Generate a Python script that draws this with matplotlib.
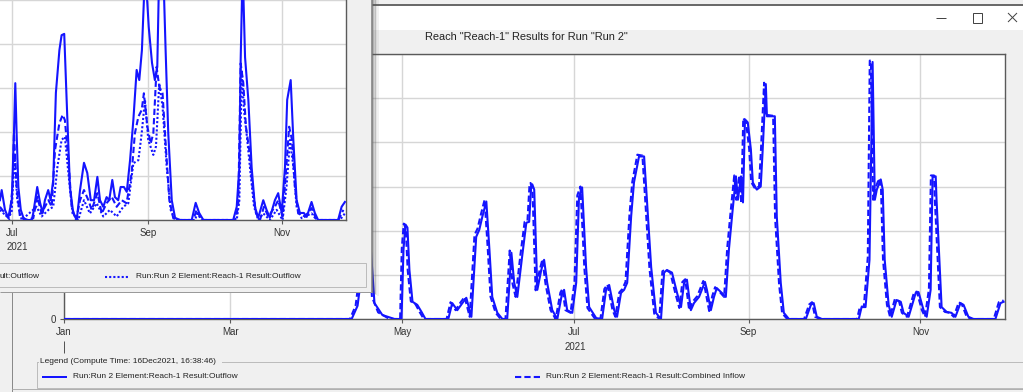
import matplotlib
matplotlib.use('Agg')
import matplotlib.pyplot as plt
from matplotlib.patches import Rectangle
from matplotlib.lines import Line2D
import matplotlib.transforms as mtransforms
import matplotlib.dates as mdates
import numpy as np
from datetime import datetime

# ---------------- data (day of year 2021, flow in grid units) ----------------
month_days = [0, 59, 120, 181, 243, 304]
month_labels = ["Jan", "Mar", "May", "Jul", "Sep", "Nov"]
front_month_days = [181, 243, 304]
front_month_labels = ["Jul", "Sep", "Nov"]
year_label = "2021"

out_days = [0, 102.1, 104.2, 106.2, 107.4, 108.6, 110.2, 113.0, 117.3,
            119.8, 120.5, 121.2, 121.9, 122.6, 123.7, 125.4, 126.9, 128.3, 136.4,
            137.8, 139.6, 141.4, 142.8, 144.6, 146.3, 147.4, 148.5, 149.9, 151.0, 152.0, 153.8, 155.6,
            157.3, 158.8, 159.8, 160.9, 162.6, 164.1, 165.1, 165.8, 166.2, 166.9, 168.0, 169.4, 170.4,
            171.5, 173.3, 175.1, 176.8, 177.5, 178.6, 180.4, 181.8, 182.8, 183.9, 185.3, 186.4, 188.9, 191.0,
            192.4, 193.5, 195.3, 196.3, 197.7, 198.8, 199.9, 201.3, 202.3, 204.1, 205.9, 206.9, 208.4,
            210.1, 211.9, 213.0, 214.0, 215.8, 217.6, 219.0, 220.1, 221.1, 222.5, 223.6, 225.4, 226.4,
            227.5, 228.2, 229.6, 230.7, 231.7, 233.5, 234.9, 236.0, 237.1, 238.5, 239.2, 240.3, 241.0,
            241.7, 242.7, 243.8, 244.5, 245.9, 247.3, 248.0, 249.1, 249.5, 250.2, 252.3, 253.0, 254.4,
            255.5, 257.3, 263.3, 265.1, 266.1, 267.2, 269.0, 282.1, 283.1, 284.5, 285.9, 287.0, 287.8,
            288.5, 289.9, 290.6, 291.3, 292.7, 293.8, 295.5, 297.0, 298.0, 299.8, 302.3, 303.3, 305.1,
            306.2, 307.6, 308.3, 309.4, 309.7, 311.5, 313.3, 315.0, 316.4, 318.2, 319.3, 321.0, 322.8,
            330.6, 332.4, 333.5]
out_vals = [0, 0, 0.3, 1.3, 2.9, 1.86, 0.36, 0.09, 0,
            0, 1.57, 2.14, 2.07, 1.11, 0.39, 0.32, 0.16, 0, 0,
            0.36, 0.2, 0.36, 0.48, 0.05, 1.86, 2.02, 2.32, 2.66, 1.57, 0.5, 0.14, 0,
            0, 1.5, 0.82, 0.5, 1.41, 2.18, 2.2, 2.98, 3.05, 2.93, 0.66, 1.11, 1.34,
            0.82, 0.2, 0, 0.59, 0.66, 0.2, 0.14, 0.82, 2.77, 2.98, 1.18, 0.27, 0.02, 0,
            0.66, 0.77, 0.2, 0.05, 0.59, 0.66, 0.82, 2.32, 3.09, 3.68, 3.68, 2.7, 1.18,
            0.14, 0, 1.05, 1.11, 1.05, 0.59, 0.27, 0.82, 0.89, 0.2, 0.36, 0.5, 0.66,
            0.84, 0.66, 0.2, 0.5, 0.7, 0.59, 0.5, 1.57, 2.32, 3.23, 2.7, 3.23, 2.64,
            4.52, 4.45, 3.84, 3.09, 2.93, 3.0, 3.84, 5.32, 4.59, 4.59, 4.59, 2.32, 0.82,
            0.14, 0, 0, 0.32, 0.36, 0.05, 0, 0, 0.27, 0.27, 1.34, 5.82, 2.7,
            2.93, 3.16, 2.93, 1.34, 0.32, 0.05, 0.43, 0.39, 0.14, 0.05, 0.59, 0.61, 0.2,
            0.05, 0.66, 3.23, 3.23, 2.7, 0.27, 0.16, 0.14, 0.05, 0.36, 0.32, 0.05, 0,
            0, 0.36, 0.39]

inflow_days = [0, 101.5, 103.5, 105.5, 106.8, 108.0, 109.3, 111.5, 115.0, 117.0,
               119.3, 119.9, 120.6, 121.3, 122.0, 123.1, 124.8, 126.3, 127.7, 135.8,
               137.2, 139.0, 140.8, 142.2, 144.0, 145.7, 146.8, 147.9, 149.3, 150.4, 151.4, 153.2, 155.0,
               156.7, 158.2, 159.2, 160.3, 162.0, 163.5, 164.5, 165.2, 165.6, 166.3, 167.4, 168.8, 169.8,
               170.9, 172.7, 174.5, 176.2, 176.9, 178.0, 179.8, 181.2, 182.2, 183.3, 184.7, 185.8, 188.3, 190.4,
               191.8, 192.9, 194.7, 195.7, 197.1, 198.2, 199.3, 200.7, 201.7, 203.5, 205.3, 206.3, 207.8,
               209.5, 211.3, 212.4, 213.4, 215.2, 217.0, 218.4, 219.5, 220.5, 221.9, 223.0, 224.8, 225.8,
               226.9, 227.6, 229.0, 230.1, 231.1, 232.9, 234.3, 235.4, 236.5, 237.9, 238.6, 239.7, 240.4,
               241.1, 242.1, 243.2, 243.9, 245.3, 246.7, 247.4, 248.5, 248.9, 249.6, 251.7, 252.4, 253.8,
               254.9, 256.7, 262.7, 264.5, 265.5, 266.6, 268.4, 281.5, 282.5, 283.9, 285.3, 286.0, 286.4,
               287.2, 287.9, 289.3, 290.0, 290.7, 292.1, 293.2, 294.9, 296.4, 297.4, 299.2, 301.7, 302.7,
               304.5, 305.6, 307.0, 307.7, 308.8, 309.1, 310.9, 312.7, 314.4, 315.8, 317.6, 318.7, 320.4,
               322.2, 330.0, 331.8, 333.5]
inflow_vals = [0, 0, 0.3, 1.3, 2.9, 1.9, 0.5, 0.15, 0.02, 0,
               0, 1.6, 2.16, 2.05, 1.1, 0.4, 0.33, 0.15, 0, 0,
               0.38, 0.2, 0.38, 0.5, 0.05, 1.9, 2.05, 2.35, 2.7, 1.6, 0.5, 0.14, 0,
               0, 1.55, 0.8, 0.5, 1.45, 2.2, 2.22, 3.0, 3.08, 2.9, 0.65, 1.1, 1.35,
               0.8, 0.2, 0, 0.6, 0.68, 0.2, 0.14, 0.85, 2.8, 3.0, 1.15, 0.25, 0.02, 0,
               0.68, 0.78, 0.2, 0.05, 0.6, 0.68, 0.84, 2.35, 3.1, 3.72, 3.7, 2.7, 1.15,
               0.12, 0, 1.08, 1.12, 1.05, 0.58, 0.25, 0.84, 0.9, 0.2, 0.38, 0.52, 0.68,
               0.86, 0.66, 0.18, 0.52, 0.72, 0.6, 0.5, 1.6, 2.35, 3.25, 2.7, 3.25, 2.62,
               4.55, 4.45, 3.85, 3.1, 2.95, 3.0, 3.85, 5.35, 4.6, 4.62, 4.6, 2.3, 0.8,
               0.13, 0, 0, 0.33, 0.38, 0.05, 0, 0, 0.28, 0.28, 1.4, 5.85, 5.85,
               2.7, 2.95, 3.18, 2.95, 1.35, 0.32, 0.05, 0.45, 0.4, 0.14, 0.05, 0.6, 0.62,
               0.2, 0.05, 0.68, 3.25, 3.25, 2.7, 0.27, 0.16, 0.14, 0.05, 0.38, 0.33, 0.05,
               0, 0, 0.38, 0.42]

# front (partly hidden) window: three series
front_solid_days = [175.5, 176.3, 177.8, 179.3, 180.9, 181.9, 182.5, 183.1, 183.9, 185.0, 186.2, 187.7,
                    190.0, 190.7, 192.5, 193.8, 195.0, 196.0, 197.5, 198.6, 199.8, 201.0, 202.6, 203.6,
                    204.8, 205.9, 207.4, 208.9, 210.5, 212.0, 213.8, 215.3, 216.9, 218.4, 219.9, 221.1,
                    222.6, 224.1, 225.3, 226.7, 227.9, 229.4, 230.5, 232.0, 233.3, 234.8, 236.3, 237.8,
                    239.0, 240.2, 241.7, 243.3, 244.8, 246.1, 247.2, 248.1, 249.9, 251.0, 252.2, 253.8,
                    255.3, 257.5, 262.9, 264.7, 266.3, 268.2, 281.8, 283.4, 284.6, 285.2, 286.1, 287.2,
                    288.7, 290.2, 291.7, 293.2, 295.5, 297.0, 298.5, 300.8, 302.3, 303.9, 305.4, 306.4,
                    308.0, 309.2, 310.7, 312.2, 314.0, 315.3, 317.5, 319.0, 320.5, 329.6, 331.2, 332.7]
front_solid_vals = [0.45, 0.68, 0.23, 0.05, 0.45, 1.98, 3.11, 1.98, 0.75, 0.23, 0.05, 0,
                    0, 0.16, 0.75, 0.39, 0.16, 0.45, 0.68, 0.45, 0.91, 2.89, 3.86, 4.2,
                    4.23, 2.73, 0.75, 0.16, 0, 0.68, 1.3, 1.07, 0.45, 0.45, 0.98, 0.45,
                    0.3, 0.52, 0.45, 0.91, 0.52, 0.45, 0.75, 0.75, 0.64, 1.36, 2.27, 3.41,
                    3.18, 3.86, 5.75, 4.39, 3.57, 3.18, 3.48, 5.75, 5.75, 3.86, 1.98, 0.45,
                    0.05, 0, 0, 0.39, 0.16, 0, 0, 0.3, 1.2, 3.64, 5.75, 3.7,
                    2.73, 1.2, 0.3, 0.05, 0.45, 0.23, 0.05, 0.45, 0.61, 0.16, 1.2, 2.73,
                    3.18, 1.82, 0.45, 0.16, 0.16, 0.07, 0.41, 0.16, 0, 0, 0.3, 0.41]

front_dashed_days = [175.5, 177.8, 179.8, 181.3, 181.9, 183.1, 184.6, 186.9, 190.7, 192.5, 194.5, 196.0,
                     197.6, 199.1, 200.6, 202.6, 204.1, 205.1, 206.7, 208.2, 210.2, 212.0, 213.8, 215.8,
                     217.3, 219.9, 221.9, 224.1, 226.4, 228.7, 231.0, 233.2, 235.5, 237.0, 238.6, 240.1,
                     241.1, 242.7, 244.2, 245.4, 246.9, 248.1, 249.6, 251.2, 252.7, 254.5, 257.5, 263.6,
                     265.1, 266.6, 268.5, 282.6, 284.1, 285.2, 286.4, 287.6, 289.1, 290.6, 292.2, 294.0,
                     295.8, 297.8, 300.8, 302.3, 304.3, 305.8, 307.3, 308.6, 309.9, 311.4, 314.5, 317.5,
                     319.8, 329.7, 332.0]
front_dashed_vals = [0.3, 0.15, 0.02, 0.76, 1.97, 0.76, 0.08, 0, 0.04, 0.53, 0.15, 0.3,
                     0.45, 0.3, 1.59, 2.2, 2.39, 2.27, 1.36, 0.3, 0, 0.45, 0.68, 0.45,
                     0.23, 0.61, 0.15, 0.38, 0.53, 0.3, 0.45, 0.38, 1.06, 1.97, 2.35, 2.5,
                     2.88, 2.12, 1.74, 1.97, 3.48, 3.03, 2.88, 1.59, 0.45, 0.04, 0, 0,
                     0.23, 0.08, 0, 0, 0.3, 3.56, 3.11, 2.12, 1.59, 0.76, 0.15, 0,
                     0.3, 0.08, 0.3, 0.45, 0.08, 1.06, 2.12, 1.82, 0.76, 0.15, 0.08, 0.27,
                     0, 0, 0.23]

front_dotted_days = [175.5, 178.6, 180.8, 182.1, 183.4, 185.4, 192.2, 194.5, 197.6, 199.8, 201.7, 203.6,
                     205.1, 206.7, 208.6, 211.2, 213.8, 216.5, 219.6, 222.6, 225.6, 228.7, 231.7, 234.0,
                     236.3, 238.6, 240.1, 241.6, 243.1, 245.4, 246.6, 248.1, 249.6, 251.5, 253.3, 255.3,
                     264.4, 265.4, 267.4, 283.4, 284.6, 285.7, 286.7, 288.2, 289.7, 291.3, 293.2, 295.5,
                     298.5, 301.6, 304.3, 306.1, 307.7, 309.2, 310.7, 313.0, 317.5, 319.8, 330.4, 332.7]
front_dotted_vals = [0.23, 0.08, 0.15, 1.44, 0.45, 0, 0.3, 0.08, 0.23, 0.3, 1.21, 1.82,
                     1.89, 1.06, 0.15, 0, 0.45, 0.15, 0.38, 0.08, 0.23, 0.08, 0.3, 0.38,
                     1.29, 1.36, 1.97, 2.73, 1.82, 1.48, 1.67, 3.11, 2.58, 1.21, 0.23, 0,
                     0, 0.15, 0, 0, 0.45, 3.41, 2.5, 1.82, 1.06, 0.3, 0, 0.15,
                     0, 0.23, 0, 0.76, 1.82, 1.21, 0.3, 0.04, 0.15, 0, 0, 0.15]

back_title = 'Reach "Reach-1" Results for Run "Run 2"'
legend_title = "Legend (Compute Time: 16Dec2021, 16:38:46)"
label_outflow = "Run:Run 2 Element:Reach-1 Result:Outflow"
label_inflow = "Run:Run 2 Element:Reach-1 Result:Combined Inflow"
front_label_cut = "ult:Outflow"
front_label_dotted = "Run:Run 2 Element:Reach-1 Result:Outflow"

# ---------------- drawing ----------------
W, H = 1023, 392
FONT = "Liberation Sans"
BLUE = "#1414ff"
GRID = "#d6d6d6"
SPINE = "#5a5a5a"
BG = "#f0f0f0"
LW = 1.5

fig = plt.figure(figsize=(W / 100, H / 100), dpi=100, facecolor=BG)
PX = mtransforms.Affine2D().scale(1 / W, -1 / H).translate(0, 1) + fig.transFigure


def rect_ax(x0, y0, x1, y1):
    return [x0 / W, 1 - y1 / H, (x1 - x0) / W, (y1 - y0) / H]


def line(xs, ys, color, lw=1.0, z=2, alpha=1.0):
    fig.add_artist(Line2D(xs, ys, transform=PX, color=color, lw=lw * 0.72, zorder=z, alpha=alpha,
                          solid_capstyle='butt'))


def box(x0, y0, x1, y1, fc, ec='none', lw=1.0, z=2):
    fig.add_artist(Rectangle((x0, y0), x1 - x0, y1 - y0, transform=PX, facecolor=fc,
                             edgecolor=ec, lw=lw * 0.72, zorder=z))


def txt(x, y, s, size=6.2, ha='left', color='#222222', z=3):
    fig.text(x, y, s, transform=PX, fontsize=size, ha=ha, va='center', color=color,
             family=FONT, zorder=z)


base = mdates.date2num(datetime(2021, 1, 1))

# ---- back window chrome ----
box(372, 6, 1023, 30, 'white', z=1)
line([372, 1023], [5, 5], '#6a6a6a', lw=2, z=2)
line([936, 946], [18, 18], '#444444', lw=1, z=2)
box(972.5, 12.5, 981.5, 22.5, 'none', ec='#444444', lw=1, z=2)
line([1008, 1017], [13, 22], '#444444', lw=1, z=2)
line([1008, 1017], [22, 13], '#444444', lw=1, z=2)
txt(425, 37, back_title, size=7.9)

# ---- back chart ----
ax = fig.add_axes(rect_ax(64, 54, 1005, 319), zorder=1)
ax.set_facecolor('white')
ax.plot(base + np.array(out_days), out_vals, color=BLUE, lw=LW, zorder=3)
ax.plot(base + np.array(inflow_days), inflow_vals, color=BLUE, lw=LW, dashes=(3, 1.5), zorder=3)
ax.set_xlim(base, base + 334)
ax.set_ylim(0, 6)
ax.set_xticks(base + np.array(month_days))
ax.set_xticklabels(month_labels, family=FONT, fontsize=7, color='#333333')
ax.set_yticks(range(7))
ax.set_yticklabels(['0'] + [''] * 6, family=FONT, fontsize=7, color='#333333')
ax.tick_params(axis='both', length=3, width=0.8, color=SPINE, pad=2.5)
ax.grid(True, color=GRID, lw=1.0)
ax.set_axisbelow(True)
for s in ax.spines.values():
    s.set_color(SPINE)
    s.set_linewidth(1.0)

# year marker under Jan and year label under Jul
line([64, 64], [341, 353], '#555555', lw=1, z=2)
txt(575, 347, year_label, size=7, ha='center', color='#333333')

# ---- back legend ----
line([12, 12], [292, 392], '#8a8a8a', lw=1, z=2)
line([12, 1023], [389, 389], '#b0b0b0', lw=1, z=2)
box(37, 362, 1030, 388, 'none', ec='#bcbcbc', lw=1, z=2)
box(39, 358, 222, 366, BG, z=2.5)
txt(40, 362, legend_title, size=6.0, z=3)
line([42, 67], [377, 377], BLUE, lw=2.0, z=3)
txt(73, 377, label_outflow, size=6.0)
fig.add_artist(Line2D([515, 542], [377, 377], transform=PX, color=BLUE, lw=LW, dashes=(3, 1.5),
                      zorder=3))
txt(546, 377, label_inflow, size=6.0)

# ---- front window ----
ZF = 5
box(-2, -2, 372, 292, BG, z=ZF)
for i, a in enumerate([0.55, 0.35, 0.2, 0.1]):
    line([373 + i * 1.5, 373 + i * 1.5], [0, 293 + i], '#555555', lw=1.5, z=ZF, alpha=a)
line([0, 372], [292, 292], '#9a9a9a', lw=1, z=ZF + 0.1)
line([372, 372], [0, 292], '#7a7a7a', lw=1.5, z=ZF + 0.1)

d0 = 181 - 12 / 2.195
fa = fig.add_axes(rect_ax(0, 0, 346, 220), zorder=ZF + 1)
fa.set_facecolor('white')
fa.plot(base + np.array(front_solid_days), front_solid_vals, color=BLUE, lw=LW, zorder=3)
fa.plot(base + np.array(front_dashed_days), front_dashed_vals, color=BLUE, lw=LW, dashes=(3, 1.5),
        zorder=3)
fa.plot(base + np.array(front_dotted_days), front_dotted_vals, color=BLUE, lw=LW, dashes=(1, 1),
        zorder=3)
fa.set_xlim(base + d0, base + 333.2)
fa.set_ylim(0, 5)
fa.set_xticks(base + np.array(front_month_days))
fa.set_xticklabels(front_month_labels, family=FONT, fontsize=7, color='#333333')
fa.set_yticks(range(6))
fa.set_yticklabels([])
fa.tick_params(axis='both', length=3, width=0.8, color=SPINE, pad=2.5)
fa.tick_params(axis='y', length=0)
fa.grid(True, color=GRID, lw=1.0)
fa.set_axisbelow(True)
fa.spines['left'].set_visible(False)
fa.spines['top'].set_visible(False)
for k in ('right', 'bottom'):
    fa.spines[k].set_color(SPINE)
    fa.spines[k].set_linewidth(1.0)

txt(17, 247, year_label, size=7, ha='center', color='#333333', z=ZF + 2)
box(-5, 263, 366, 287, 'none', ec='#bcbcbc', lw=1, z=ZF + 1)
txt(0, 277, front_label_cut, size=6.0, z=ZF + 2)
fig.add_artist(Line2D([105, 130], [277, 277], transform=PX, color=BLUE, lw=LW, dashes=(1, 1),
                      zorder=ZF + 2))
txt(136, 277, front_label_dotted, size=6.0, z=ZF + 2)

fig.savefig("out.png", dpi=100, facecolor=BG)
